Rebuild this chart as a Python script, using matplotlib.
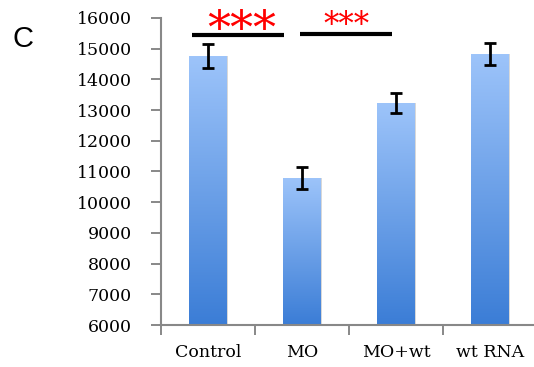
import numpy as np
import matplotlib
matplotlib.use('Agg')
import matplotlib.pyplot as plt
from matplotlib.colors import LinearSegmentedColormap

groups = ['Control', 'MO', 'MO+wt', 'wt RNA']
means = [14750, 10790, 13230, 14820]
errs = [390, 370, 340, 360]

fig = plt.figure(figsize=(5.34, 3.67), dpi=100)
ax = fig.add_axes([161 / 534, 42 / 367, 376 / 534, 307 / 367])

x = np.arange(len(groups))
w = 0.4
cmap = LinearSegmentedColormap.from_list('bl', ['#3b7dd6', '#9dc4fa'])
grad = np.linspace(0, 1, 256).reshape(-1, 1)

for xi, m in zip(x, means):
    # thin shadow on the right side
    ax.bar(xi + 0.012, m - 6000, w, bottom=6000, color='#d8d8d8', zorder=1)
    b = ax.bar(xi, m - 6000, w, bottom=6000, color='none', zorder=2)[0]
    im = ax.imshow(grad, cmap=cmap, origin='lower', aspect='auto',
                   extent=[xi - w / 2, xi + w / 2, 6000, m], zorder=2)
    im.set_clip_path(b)

ax.errorbar(x, means, yerr=errs, fmt='none', ecolor='black', elinewidth=2,
            capsize=4, capthick=2, zorder=3)

ax.set_xlim(-0.5, 3.5)
ax.set_ylim(6000, 16000)
ax.set_yticks(range(6000, 16001, 1000))
ax.set_xticks(x)
ax.set_xticklabels(groups, fontfamily='DejaVu Serif', fontsize=12.5)
ax.set_xticks(np.arange(-0.5, 4, 1), minor=True)
ax.tick_params(axis='x', which='major', length=0, pad=14)
ax.tick_params(axis='x', which='minor', length=7, width=1.4, color='#888888')
ax.tick_params(axis='y', length=7, width=1.4, color='#888888', pad=14)
for lab in ax.get_yticklabels():
    lab.set_fontfamily('DejaVu Serif')
    lab.set_fontsize(12.5)

for s in ['top', 'right']:
    ax.spines[s].set_visible(False)
for s in ['left', 'bottom']:
    ax.spines[s].set_color('#888888')
    ax.spines[s].set_linewidth(1.5)

# significance bars
ax.plot([-0.17, 0.81], [15460, 15460], color='black', lw=3, clip_on=False, solid_capstyle='butt')
ax.plot([0.98, 1.96], [15480, 15480], color='black', lw=3, clip_on=False, solid_capstyle='butt')
ax.text(0.36, 15150, '***', color='red', fontsize=33, ha='center', va='baseline',
        fontfamily='DejaVu Serif', clip_on=False)
ax.text(1.47, 15480, '***', color='red', fontsize=22, ha='center', va='baseline',
        fontfamily='DejaVu Serif', clip_on=False)

fig.text(12 / 534, 1 - 47 / 367, 'C', fontsize=21, fontfamily='Liberation Sans')

fig.savefig('out.png', dpi=100)
